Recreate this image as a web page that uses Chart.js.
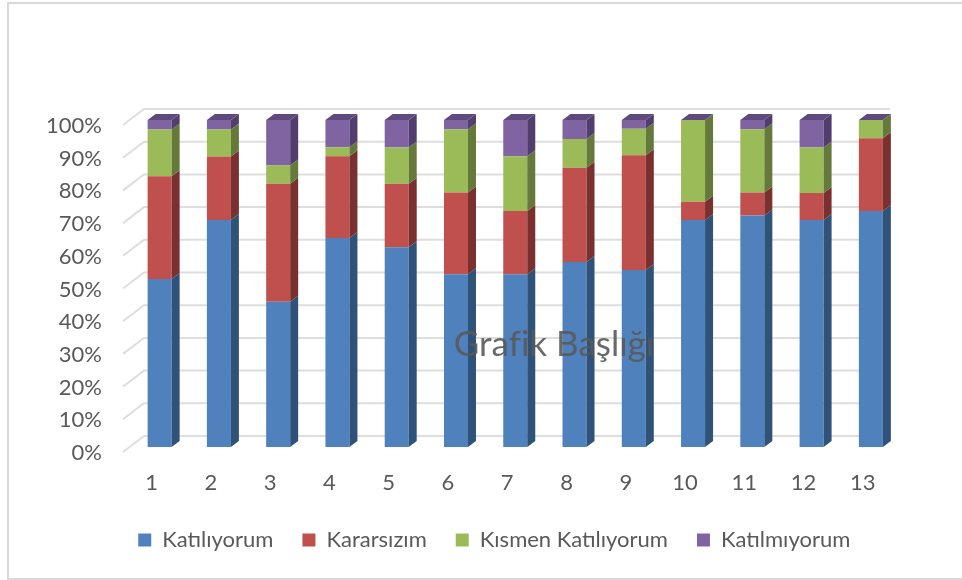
<!DOCTYPE html>
<html lang="tr">
<head>
<meta charset="utf-8">
<title>Grafik Başlığı</title>
<script src="https://cdn.jsdelivr.net/npm/chart.js@4"></script>
<style>
  html, body { margin: 0; background: #fff; }
  #frame { position: absolute; left: 7px; top: 2px; width: 955px; height: 574px;
           border: 2px solid #d9d9d9; border-right: 0; }
  #chart { position: absolute; left: 0; top: 0; }
</style>
</head>
<body>
<div id="frame"></div>
<canvas id="chart" width="962" height="580"></canvas>
<script>
// ---- Data ----
const categories = ['1', '2', '3', '4', '5', '6', '7', '8', '9', '10', '11', '12', '13'];
const katiliyorum = [51.4, 69.4, 44.4, 63.9, 61.1, 52.8, 52.8, 56.6, 54.1, 69.4, 70.8, 69.4, 72.2];
const kararsizim = [31.4, 19.4, 36.1, 25.0, 19.4, 25.0, 19.4, 28.8, 35.1, 5.6, 7.0, 8.3, 22.2];
const kismen = [14.3, 8.3, 5.6, 2.8, 11.1, 19.4, 16.7, 8.8, 8.1, 25.0, 19.4, 13.9, 5.6];
const katilmiyorum = [2.9, 2.9, 13.9, 8.3, 8.4, 2.8, 11.1, 5.8, 2.7, 0, 2.8, 8.4, 0];
const seriesNames = ['Katılıyorum', 'Kararsızım', 'Kısmen Katılıyorum', 'Katılmıyorum'];
const titleText = 'Grafik Başlığı';

// ---- Colours ----
const FACE = ['#4f81bd', '#c0504d', '#9bbb59', '#8064a2'];
const SIDE = ['#2f5278', '#7a302e', '#64793a', '#513e6f'];
const TOP_FACE = '#5f4a7d';
const TEXT = '#595959';
const FONT = 'Lato, Carlito, sans-serif';

// ---- Pseudo 3D offsets ----
const DEPTH_X = 8;
const DEPTH_Y = 6;
const WALL_X = 144;
const FLOOR_X = 123;
const WALL_END = 890;
const LEGEND_SHIFT = 44;

// ---- Back wall and floor lines ----
const wallPlugin = {
  id: 'wall',
  beforeDatasetsDraw(chart) {
    const { ctx, scales: { y } } = chart;
    ctx.save();
    ctx.strokeStyle = '#dedede';
    ctx.lineWidth = 2;
    y.ticks.forEach(t => {
      const py = y.getPixelForValue(t.value);
      ctx.beginPath();
      ctx.moveTo(FLOOR_X, py + 5);
      ctx.lineTo(WALL_X, py - 11);
      ctx.lineTo(WALL_END, py - 11);
      ctx.stroke();
    });
    ctx.restore();
  }
};

// ---- Bar sides and tops ----
function fillPoly(ctx, color, pts) {
  ctx.fillStyle = color;
  ctx.beginPath();
  pts.forEach((p, i) => i ? ctx.lineTo(p[0], p[1]) : ctx.moveTo(p[0], p[1]));
  ctx.closePath();
  ctx.fill();
}

const depthPlugin = {
  id: 'depth',
  afterDatasetsDraw(chart) {
    const { ctx } = chart;
    chart.data.datasets.forEach((ds, i) => {
      chart.getDatasetMeta(i).data.forEach(bar => {
        const r = bar.x + bar.width / 2;
        const l = bar.x - bar.width / 2;
        fillPoly(ctx, SIDE[i], [[r, bar.y], [r + DEPTH_X, bar.y - DEPTH_Y], [r + DEPTH_X, bar.base - DEPTH_Y], [r, bar.base]]);
        if (i === chart.data.datasets.length - 1) {
          fillPoly(ctx, TOP_FACE, [[l, bar.y], [l + DEPTH_X, bar.y - DEPTH_Y], [r + DEPTH_X, bar.y - DEPTH_Y], [r, bar.y]]);
        }
      });
    });
  }
};

// ---- Legend is centred on the plot, not on the box ----
const legendShiftPlugin = {
  id: 'legendShift',
  afterLayout(chart) {
    chart.legend.left += LEGEND_SHIFT;
    chart.legend.right += LEGEND_SHIFT;
  }
};

// ---- Title sits over the bars ----
const titlePlugin = {
  id: 'overTitle',
  afterDraw(chart) {
    const { ctx } = chart;
    ctx.save();
    ctx.font = '35px ' + FONT;
    ctx.fillStyle = 'rgba(89,89,89,0.9)';
    ctx.textAlign = 'center';
    ctx.textBaseline = 'middle';
    ctx.fillText(titleText, 554, 345);
    ctx.restore();
  }
};

// ---- Chart ----
const seriesValues = [katiliyorum, kararsizim, kismen, katilmiyorum];

new Chart(document.getElementById('chart'), {
  type: 'bar',
  data: {
    labels: categories,
    datasets: seriesNames.map((name, i) => ({
      label: name,
      data: seriesValues[i],
      backgroundColor: FACE[i],
      barPercentage: 0.405,
      categoryPercentage: 1,
    }))
  },
  options: {
    responsive: false,
    animation: false,
    layout: { padding: { top: 120, right: 61.5, bottom: 19, left: 0 } },
    plugins: {
      title: { display: false },
      tooltip: { enabled: false },
      legend: {
        position: 'bottom',
        labels: {
          color: TEXT,
          font: { family: FONT, size: 22 },
          boxWidth: 13,
          boxHeight: 13,
          padding: 29,
        }
      }
    },
    scales: {
      x: {
        stacked: true,
        grid: { display: false },
        border: { display: false },
        afterFit: s => { s.height = 53; },
        ticks: {
          color: TEXT,
          font: { family: FONT, size: 22 },
          padding: 15,
          labelOffset: -8,
          maxRotation: 0,
          autoSkip: false,
        }
      },
      y: {
        stacked: true,
        min: 0,
        max: 100,
        grid: { display: false },
        border: { display: false },
        afterFit: s => { s.width = 130; },
        ticks: {
          color: TEXT,
          font: { family: FONT, size: 22 },
          stepSize: 10,
          padding: 20,
          labelOffset: 6,
          callback: v => v + '%',
        }
      }
    }
  },
  plugins: [wallPlugin, depthPlugin, legendShiftPlugin, titlePlugin]
});
</script>
</body>
</html>
